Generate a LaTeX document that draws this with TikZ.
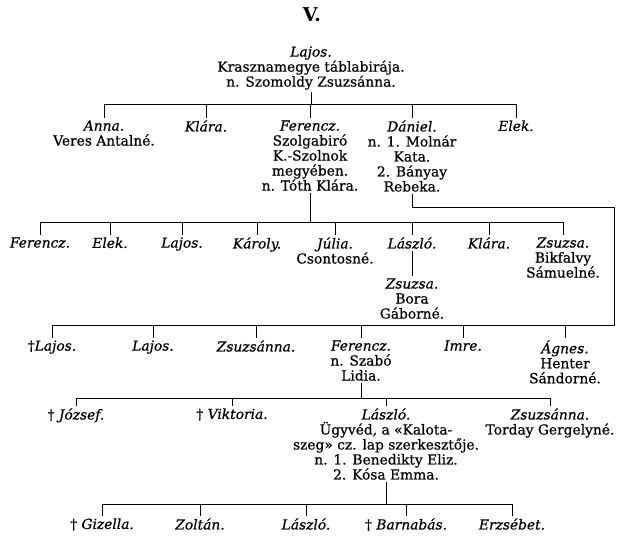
\documentclass[tikz,border=0pt]{standalone}
\usepackage{fontspec}
\setmainfont{DejaVu Serif}[UprightFeatures={FakeBold=0.6}, ItalicFeatures={FakeBold=0.6}]
\usetikzlibrary{calc}
\newcommand{\nm}[1]{\textit{#1}}

\begin{document}
\begin{tikzpicture}[x=1pt, y=-1pt, line width=0.9pt,
  person/.style={align=center, anchor=north, inner xsep=1pt, inner ysep=2pt,
    font=\fontsize{13.8}{15}\selectfont}]
\useasboundingbox (0,0) rectangle (626,539);
\node[font=\bfseries\fontsize{19}{20}\selectfont] (title) at (312,15) {V.};
% first generation
\node[person] (lajos) at (311,44) {\nm{Lajos.}\\ Krasznamegye táblabirája.\\ n. Szomoldy Zsuzsánna.};
\coordinate (bar1) at (0,104);
\node[person] (anna) at (104,118) {\nm{Anna.}\\ Veres Antalné.};
\node[person] (klara) at (206,118) {\nm{Klára.}};
\node[person] (ferencz) at (310,118) {\nm{Ferencz.}\\ Szolgabiró\\ K.-Szolnok\\ megyében.\\ n. Tóth Klára.};
\node[person] (daniel) at (412,118) {\nm{Dániel.}\\ n. 1. Molnár\\ Kata.\\ 2. Bányay\\ Rebeka.};
\node[person] (elek) at (516,118) {\nm{Elek.}};
\draw (lajos.south) -- (lajos.south |- bar1);
\draw (anna.north |- bar1) -- (elek.north |- bar1);
\foreach \c in {anna,klara,ferencz,daniel,elek}{\draw (\c.north |- bar1) -- (\c.north);}
% Ferencz's children
\coordinate (bar2) at (0,222);
\node[person] (ferenczB) at (40,235) {\nm{Ferencz.}};
\node[person] (elekB) at (110,235) {\nm{Elek.}};
\node[person] (lajosB) at (182,235) {\nm{Lajos.}};
\node[person] (karoly) at (257,235) {\nm{Károly.}};
\node[person] (julia) at (335,235) {\nm{Júlia.}\\ Csontosné.};
\node[person] (laszlo) at (412,235) {\nm{László.}};
\node[person] (klaraB) at (489,235) {\nm{Klára.}};
\node[person] (zsuzsa) at (563,235) {\nm{Zsuzsa.}\\ Bikfalvy\\ Sámuelné.};
\node[person] (zsuzsaB) at (412,276) {\nm{Zsuzsa.}\\ Bora\\ Gáborné.};
\draw (ferencz.south) -- (ferencz.south |- bar2);
\draw (ferenczB.north |- bar2) -- (zsuzsa.north |- bar2);
\foreach \c in {ferenczB,elekB,lajosB,karoly,julia,laszlo,klaraB,zsuzsa}{\draw (\c.north |- bar2) -- (\c.north);}
\draw (laszlo) -- (zsuzsaB);
% Daniel's children
\coordinate (turn) at (614,207);
\coordinate (bar3) at (0,325);
\node[person] (lajosC) at (52,338) {†\nm{Lajos.}};
\node[person] (lajosD) at (153,338) {\nm{Lajos.}};
\node[person] (zsuzsanna) at (256,338) {\nm{Zsuzsánna.}};
\node[person] (ferenczC) at (361,338) {\nm{Ferencz.}\\ n. Szabó\\ Lidia.};
\node[person] (imre) at (463,338) {\nm{Imre.}};
\node[person] (agnes) at (565,338) {\nm{Ágnes.}\\ Henter\\ Sándorné.};
\draw (daniel.south) |- (turn) -- (turn |- bar3) -- (lajosC.north |- bar3);
\foreach \c in {lajosC,lajosD,zsuzsanna,ferenczC,imre,agnes}{\draw (\c.north |- bar3) -- (\c.north);}
% Ferencz (Szabo Lidia) children
\coordinate (bar4) at (0,398);
\node[person] (jozsef) at (76,406) {† \nm{József.}};
\node[person] (viktoria) at (232,406) {† \nm{Viktoria.}};
\node[person] (laszloB) at (386,406) {\nm{László.}\\ Ügyvéd, a «Kalota-\\ szeg» cz. lap szerkesztője.\\ n. 1. Benedikty Eliz.\\ 2. Kósa Emma.};
\node[person] (zsuzsannaB) at (550,406) {\nm{Zsuzsánna.}\\ Torday Gergelyné.};
\draw (ferenczC.south) -- (ferenczC.south |- bar4);
\draw (jozsef.north |- bar4) -- (zsuzsannaB.north |- bar4);
\foreach \c in {jozsef,viktoria,laszloB,zsuzsannaB}{\draw (\c.north |- bar4) -- (\c.north);}
% Laszlo's children
\coordinate (bar5) at (0,504);
\node[person] (gizella) at (102,516) {† \nm{Gizella.}};
\node[person] (zoltan) at (200,516) {\nm{Zoltán.}};
\node[person] (laszloC) at (306,516) {\nm{László.}};
\node[person] (barnabas) at (406,516) {† \nm{Barnabás.}};
\node[person] (erzsebet) at (512,516) {\nm{Erzsébet.}};
\draw (laszloB.south) -- (laszloB.south |- bar5);
\draw (gizella.north |- bar5) -- (erzsebet.north |- bar5);
\foreach \c in {gizella,zoltan,laszloC,barnabas,erzsebet}{\draw (\c.north |- bar5) -- (\c.north);}
\end{tikzpicture}
\end{document}
